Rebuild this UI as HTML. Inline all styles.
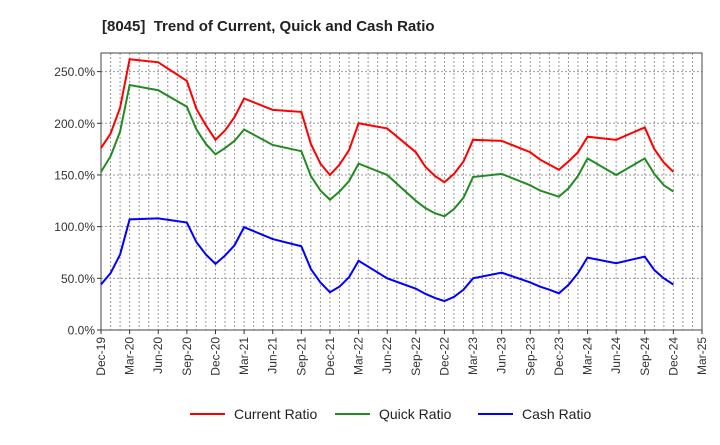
<!DOCTYPE html>
<html><head><meta charset="utf-8"><style>
body{margin:0;background:#fff;font-family:"Liberation Sans",sans-serif;}
svg text{font-family:"Liberation Sans",sans-serif;}
</style></head><body>
<svg id="chart" width="720" height="440" xmlns="http://www.w3.org/2000/svg">
<text x="102" y="31" font-size="15" font-weight="bold" fill="#222" style="white-space:pre">[8045]  Trend of Current, Quick and Cash Ratio</text>
<g id="grid"></g><g id="axes"></g><g id="series"></g><g id="legend"></g>
</svg>
<script>
const months=[0,1,2,3,6,9,10,11,12,13,14,15,18,21,22,23,24,25,26,27,30,33,34,35,36,37,38,39,42,45,46,47,48,49,50,51,54,57,58,59,60];
const currentRatio=[176,190,215,262,259,241,214,198,184,193,206,224,213,211,180,161,150,160,174,200,195,172,158,149,143,151,163,184,183,172,165,160,155,163,172,187,184,196,175,162,153];
const quickRatio=[153,168,192,237,232,216,194,180,170,176,183,194,179,173,149,135,126,134,144,161,150,125,118,113,110,117,128,148,151,140,135,132,129,137,149,166,150,166,151,140,134];
const cashRatio=[44,55,73,107,108,104,85,73,64,72,82,99.5,88,81,59,46,36.5,42,51,67,50,40,35,31,28,32,39,50,55.5,46,42,39,35.5,43.6,55,70,64.6,71,58,50,44];
const yTicks=[0,50,100,150,200,250];
const xTickLabels=["Dec-19","Mar-20","Jun-20","Sep-20","Dec-20","Mar-21","Jun-21","Sep-21","Dec-21","Mar-22","Jun-22","Sep-22","Dec-22","Mar-23","Jun-23","Sep-23","Dec-23","Mar-24","Jun-24","Sep-24","Dec-24","Mar-25"];
const L=101,R=702,T=53,B=330,maxM=63,yMax=268;
const xs=m=>L+(R-L)*m/maxM;
const ys=v=>B-(B-T)*v/yMax;
const NS="http://www.w3.org/2000/svg";
function mk(tag,attrs,parent){const e=document.createElementNS(NS,tag);for(const k in attrs)e.setAttribute(k,attrs[k]);parent.appendChild(e);return e;}
const grid=document.getElementById('grid'),axes=document.getElementById('axes'),series=document.getElementById('series'),legend=document.getElementById('legend');
for(let m=1;m<maxM;m++){const l=mk('line',{x1:xs(m),x2:xs(m),y1:T,y2:B,stroke:'#999','stroke-width':1,'stroke-dasharray':'2,2'},grid);

}
yTicks.forEach(v=>{if(v>0){const l=mk('line',{x1:L,x2:R,y1:ys(v),y2:ys(v),stroke:'#999','stroke-width':1,'stroke-dasharray':'2,2'},grid);

}
const t=mk('text',{x:L-6,y:ys(v)+4.5,'font-size':12,'text-anchor':'end',fill:'#333'},axes);t.textContent=v.toFixed(1)+'%';


mk('line',{x1:L-4,x2:L,y1:ys(v),y2:ys(v),stroke:'#333'},axes);});
xTickLabels.forEach((s,i)=>{const x=xs(i*3);mk('line',{x1:x,x2:x,y1:B,y2:B+4,stroke:'#333'},axes);
const t=mk('text',{x:0,y:0,'font-size':12,'text-anchor':'end',fill:'#333',transform:`translate(${x+4},${B+7}) rotate(-90)`},axes);t.textContent=s;

});
const frame=mk('rect',{x:L,y:T,width:R-L,height:B-T,fill:'none',stroke:'#444','stroke-width':1},axes);


const defs=[[currentRatio,'#ff0000','current-ratio-line','Current Ratio',190],[quickRatio,'#228b22','quick-ratio-line','Quick Ratio',335],[cashRatio,'#0000ff','cash-ratio-line','Cash Ratio',478]];
defs.forEach(([vals,col,name,label,lx])=>{
const p=mk('polyline',{points:vals.map((v,i)=>xs(months[i])+','+ys(v)).join(' '),fill:'none',stroke:col,'stroke-width':2},series);


const g=mk('g',{},legend);


mk('line',{x1:lx,x2:lx+35,y1:414,y2:414,stroke:col,'stroke-width':2},g);
const t=mk('text',{x:lx+44,y:419,'font-size':14,fill:'#222'},g);t.textContent=label;});
</script>
</body></html>
